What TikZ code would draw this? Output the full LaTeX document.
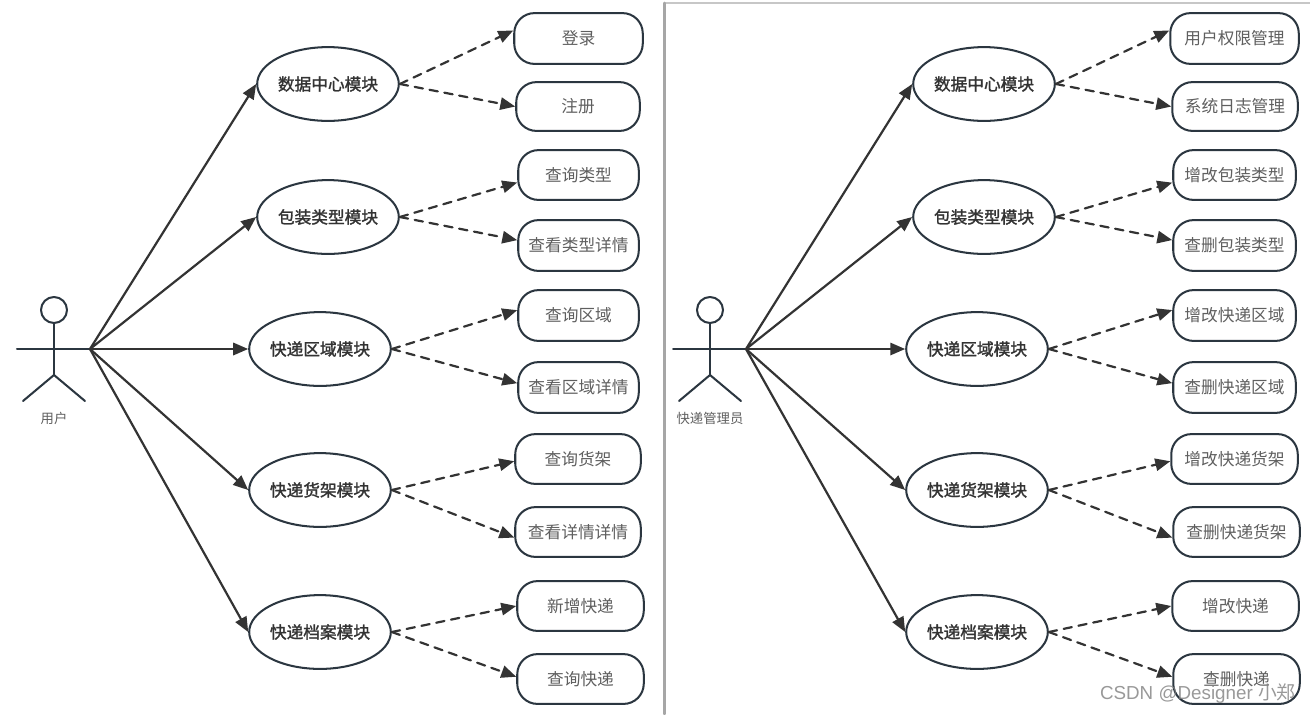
\documentclass[tikz,border=0pt]{standalone}
\usepackage{fontspec}
\setmainfont[AutoFakeBold=1.6]{Noto Sans CJK SC}
\newfontfamily\wmfont{Liberation Sans}
\usetikzlibrary{arrows.meta,shapes.geometric}
\definecolor{edgeink}{HTML}{2B3640}
\definecolor{lineink}{HTML}{333333}
\definecolor{textink}{HTML}{5F5F5F}
\tikzset{
	modnode/.style={draw=edgeink, line width=1.15pt, fill=white, ellipse, minimum width=79.5pt, minimum height=42pt, inner sep=0pt, font=\fontsize{9.5}{11}\selectfont\bfseries, text=lineink},
	funcbox/.style={draw=edgeink, line width=1.15pt, fill=white, rounded corners=11.5pt, inner sep=0pt, font=\fontsize{9.5}{11}\selectfont, text=textink},
	actorline/.style={draw=edgeink, line width=1.15pt},
	mainarrow/.style={draw=lineink, line width=1.25pt, -{Triangle[length=8.5pt,width=7pt]}},
	subarrow/.style={draw=lineink, line width=1.25pt, dash pattern=on 4.8pt off 3.8pt, -{Triangle[length=8.5pt,width=7pt]}},
}
\newcommand{\funcnode}[6]{\node[funcbox, minimum width=#4*.567pt, minimum height=#5*.567pt] (#1) at (#2,#3) {\raisebox{-.5pt}{#6}};}
\begin{document}
\begin{tikzpicture}[x=.02cm, y=-.02cm, line join=round, line cap=round]
	\useasboundingbox (0,0) rectangle (1310,714);
	\fill[white] (0,0) rectangle (1310,714);
	% right panel edge
	\draw[black!22, line width=1.6pt] (664.5,3)--(1310,3);
	\draw[black!35, line width=1.6pt] (664.5,714)--(664.5,3);

	% user
	\coordinate (handA) at (90,349);
	\coordinate (armA) at (17,349);
	\coordinate (neckA) at (54,323);
	\coordinate (hipA) at (54,375);
	\draw[actorline] (54,310) circle (13);
	\draw[actorline] (armA)--(handA);
	\draw[actorline] (neckA)--(hipA);
	\draw[actorline] (23,401)--(hipA)--(85,401);
	\node[font=\fontsize{7.6}{9}\selectfont, text=textink] (userlabel) at (54,418) {用户};

	% courier admin
	\coordinate (handB) at (746,349);
	\coordinate (armB) at (673,349);
	\coordinate (neckB) at (710,323);
	\coordinate (hipB) at (710,375);
	\draw[actorline] (710,310) circle (13);
	\draw[actorline] (armB)--(handB);
	\draw[actorline] (neckB)--(hipB);
	\draw[actorline] (679,401)--(hipB)--(741,401);
	\node[font=\fontsize{7.6}{9}\selectfont, text=textink] (adminlabel) at (710,418) {快递管理员};

	\node[modnode] (mA1) at (328,84) {数据中心模块};
	\node[modnode] (mA2) at (328,217) {包装类型模块};
	\node[modnode] (mA3) at (320,349) {快递区域模块};
	\node[modnode] (mA4) at (320,490) {快递货架模块};
	\node[modnode] (mA5) at (320,632) {快递档案模块};
	\node[modnode] (mB1) at (984,84) {数据中心模块};
	\node[modnode] (mB2) at (984,217) {包装类型模块};
	\node[modnode] (mB3) at (977,349) {快递区域模块};
	\node[modnode] (mB4) at (977,490) {快递货架模块};
	\node[modnode] (mB5) at (977,632) {快递档案模块};

	\funcnode{fA1}{578.5}{38.5}{129}{51}{登录}
	\funcnode{fA2}{578}{106.5}{124}{49}{注册}
	\funcnode{fA3}{578.5}{175}{121}{50}{查询类型}
	\funcnode{fA4}{578.5}{245.5}{121}{51}{查看类型详情}
	\funcnode{fA5}{578.5}{315.5}{121}{51}{查询区域}
	\funcnode{fA6}{578.5}{387.5}{121}{51}{查看区域详情}
	\funcnode{fA7}{578}{459}{126}{50}{查询货架}
	\funcnode{fA8}{578}{532}{126}{50}{查看详情详情}
	\funcnode{fA9}{580.5}{606}{127}{50}{新增快递}
	\funcnode{fA10}{580.5}{679}{127}{50}{查询快递}
	\funcnode{fB1}{1234.5}{38.5}{129}{51}{用户权限管理}
	\funcnode{fB2}{1235}{106.5}{126}{49}{系统日志管理}
	\funcnode{fB3}{1234.5}{175}{123}{50}{增改包装类型}
	\funcnode{fB4}{1234.5}{245.5}{123}{51}{查删包装类型}
	\funcnode{fB5}{1234.5}{315.5}{123}{51}{增改快递区域}
	\funcnode{fB6}{1234.5}{387.5}{123}{51}{查删快递区域}
	\funcnode{fB7}{1234.5}{459}{127}{50}{增改快递货架}
	\funcnode{fB8}{1236.5}{532}{127}{50}{查删快递货架}
	\funcnode{fB9}{1235.5}{606}{127}{50}{增改快递}
	\funcnode{fB10}{1236.5}{679}{127}{50}{查删快递}

	\foreach \s in {A,B} {
		\foreach \m in {1,...,5}
			\draw[mainarrow] (hand\s)--(m\s\m.west);
		\foreach \m/\f/\ang in {1/1/173, 1/2/180, 2/3/187, 2/4/175, 3/5/175, 3/6/176, 4/7/182, 4/8/185, 5/9/180, 5/10/178}
			\draw[subarrow] (m\s\m.east)--(f\s\f.\ang);
	}

	\node[font=\fontsize{10.7}{12}\selectfont, text=black!50, opacity=.8, anchor=east, inner sep=0pt] (mark) at (1296,694) {{\wmfont CSDN @Designer }小郑};
\end{tikzpicture}
\end{document}
